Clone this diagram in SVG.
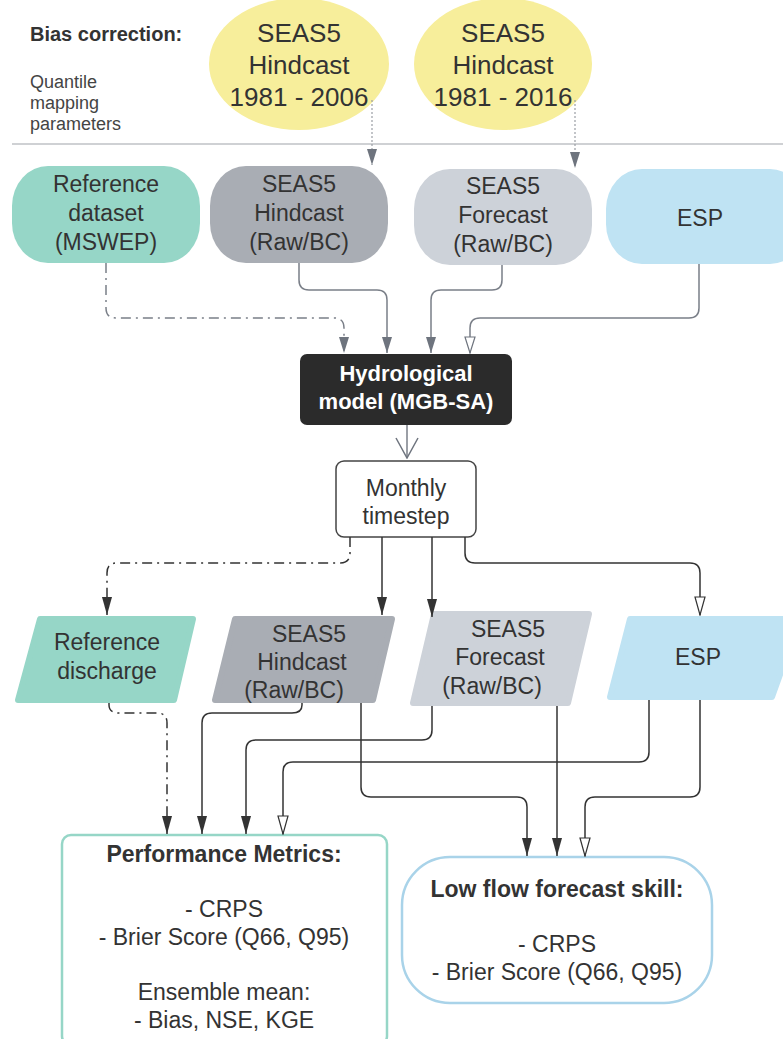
<svg xmlns="http://www.w3.org/2000/svg" width="783" height="1039" viewBox="0 0 783 1039">
<defs>
<style>
text{font-family:"Liberation Sans",Arial,sans-serif;fill:#333;text-anchor:middle}
.t{font-size:23px}
.y{font-size:26px}
.b{font-weight:bold}
.side{font-size:18px;text-anchor:start;fill:#444}
.cg{fill:none;stroke:#7a7f88;stroke-width:1.5}
.cd{fill:none;stroke:#333;stroke-width:1.5}
.dd{stroke-dasharray:10 5 2 5}
.dot{fill:none;stroke:#9a9ea5;stroke-width:1.2;stroke-dasharray:2 2}
</style>
<marker id="agf" viewBox="0 0 16 10" refX="16" refY="5" markerWidth="16" markerHeight="10" markerUnits="userSpaceOnUse" orient="auto"><path d="M0,0 L16,5 L0,10 z" fill="#6e747e"/></marker>
<marker id="agh" viewBox="-1 -1 18 12" refX="16" refY="5" markerWidth="18" markerHeight="12" markerUnits="userSpaceOnUse" orient="auto"><path d="M0,0 L16,5 L0,10 z" fill="#fff" stroke="#6e747e" stroke-width="1.2"/></marker>
<marker id="adf" viewBox="0 0 18 10" refX="18" refY="5" markerWidth="18" markerHeight="10" markerUnits="userSpaceOnUse" orient="auto"><path d="M0,0 L18,5 L0,10 z" fill="#333"/></marker>
<marker id="adh" viewBox="-1 -1 20 12" refX="18" refY="5" markerWidth="20" markerHeight="12" markerUnits="userSpaceOnUse" orient="auto"><path d="M0,0 L18,5 L0,10 z" fill="#fff" stroke="#333" stroke-width="1.2"/></marker>
<marker id="chev" viewBox="-1 -1 22 24" refX="20" refY="11" markerWidth="22" markerHeight="24" markerUnits="userSpaceOnUse" orient="auto"><path d="M0,0 L20,11 L0,22" fill="none" stroke="#6e747e" stroke-width="1.5"/></marker>
</defs>
<rect width="783" height="1039" fill="#fff"/>

<g id="bias-label">
<text x="30" y="41" class="b" style="font-size:20px;text-anchor:start">Bias correction:</text>
<text x="30" y="88" class="side">Quantile</text>
<text x="30" y="109" class="side">mapping</text>
<text x="30" y="130" class="side">parameters</text>
</g>
<line x1="12" y1="144" x2="783" y2="144" stroke="#cfd1d4" stroke-width="2"/>

<g id="yellow1">
<ellipse cx="299" cy="64" rx="90" ry="66" fill="#f7ee9b"/>
<text x="299" y="42" class="y">SEAS5</text>
<text x="299" y="74" class="y">Hindcast</text>
<text x="299" y="106" class="y">1981 - 2006</text>
</g>
<g id="yellow2">
<ellipse cx="503" cy="64" rx="89" ry="66" fill="#f7ee9b"/>
<text x="503" y="42" class="y">SEAS5</text>
<text x="503" y="74" class="y">Hindcast</text>
<text x="503" y="106" class="y">1981 - 2016</text>
</g>

<g id="ref-dataset">
<rect x="12" y="166" width="188" height="97" rx="36" ry="40" fill="#96d6c7"/>
<text x="106" y="192" class="t">Reference</text>
<text x="106" y="221" class="t">dataset</text>
<text x="106" y="250" class="t">(MSWEP)</text>
</g>
<g id="hind-in">
<rect x="210" y="166" width="178" height="97" rx="36" ry="40" fill="#a9adb4"/>
<text x="299" y="192" class="t">SEAS5</text>
<text x="299" y="221" class="t">Hindcast</text>
<text x="299" y="250" class="t">(Raw/BC)</text>
</g>
<g id="fore-in">
<rect x="414" y="169" width="178" height="96" rx="36" ry="40" fill="#cdd2d9"/>
<text x="503" y="194" class="t">SEAS5</text>
<text x="503" y="223" class="t">Forecast</text>
<text x="503" y="252" class="t">(Raw/BC)</text>
</g>
<g id="esp-in">
<rect x="606" y="169" width="200" height="95" rx="36" ry="40" fill="#bfe3f3"/>
<text x="700" y="226" class="t">ESP</text>
</g>

<g id="hydro">
<rect x="300" y="354" width="212" height="71" rx="7" fill="#2b2b2b"/>
<text x="406" y="381" class="b" style="font-size:22px;fill:#fff">Hydrological</text>
<text x="406" y="409" class="b" style="font-size:22px;fill:#fff">model (MGB-SA)</text>
</g>

<g id="monthly">
<rect x="336" y="461" width="140" height="76" rx="8" fill="#fff" stroke="#444" stroke-width="1.5"/>
<text x="406" y="496" class="t">Monthly</text>
<text x="406" y="524" class="t">timestep</text>
</g>

<g id="ref-discharge">
<polygon points="40,619 193,619 174,700 18,700" fill="#96d6c7" stroke="#96d6c7" stroke-width="6" stroke-linejoin="round"/>
<text x="107" y="650" class="t">Reference</text>
<text x="107" y="679" class="t">discharge</text>
</g>
<g id="hind-out">
<polygon points="235,619 392,619 373,700 215,700" fill="#a9adb4" stroke="#a9adb4" stroke-width="6" stroke-linejoin="round"/>
<text x="309" y="642" class="t">SEAS5</text>
<text x="302" y="670" class="t">Hindcast</text>
<text x="294" y="698" class="t">(Raw/BC)</text>
</g>
<g id="fore-out">
<polygon points="434,614 589,614 568,703 413,703" fill="#cdd2d9" stroke="#cdd2d9" stroke-width="6" stroke-linejoin="round"/>
<text x="508" y="637" class="t">SEAS5</text>
<text x="500" y="665" class="t">Forecast</text>
<text x="492" y="694" class="t">(Raw/BC)</text>
</g>
<g id="esp-out">
<polygon points="630,619 800,619 772,697 610,697" fill="#bfe3f3" stroke="#bfe3f3" stroke-width="6" stroke-linejoin="round"/>
<text x="698" y="665" class="t">ESP</text>
</g>

<g id="perf">
<rect x="62" y="835" width="325" height="210" rx="9" fill="#fff" stroke="#96d6c7" stroke-width="2.5"/>
<text x="224" y="862" class="b" style="font-size:23px">Performance Metrics:</text>
<text x="224" y="917" class="t">- CRPS</text>
<text x="224" y="945" class="t">- Brier Score (Q66, Q95)</text>
<text x="224" y="1000" class="t">Ensemble mean:</text>
<text x="224" y="1028" class="t">- Bias, NSE, KGE</text>
</g>
<g id="lowflow">
<rect x="402" y="857" width="310" height="146" rx="48" ry="48" fill="#fff" stroke="#a9d3e9" stroke-width="2.5"/>
<text x="557" y="897" class="b" style="font-size:23px">Low flow forecast skill:</text>
<text x="557" y="952" class="t">- CRPS</text>
<text x="557" y="980" class="t">- Brier Score (Q66, Q95)</text>
</g>

<g id="connectors">
<path class="dot" d="M372,100 V165" marker-end="url(#agf)"/>
<path class="dot" d="M575,100 V168" marker-end="url(#agf)"/>
<path class="cg dd" d="M106,263 V308 Q106,318 116,318 H334 Q344,318 344,328 V353" marker-end="url(#agf)"/>
<path class="cg" d="M299,263 V280 Q299,290 309,290 H377 Q387,290 387,300 V353" marker-end="url(#agf)"/>
<path class="cg" d="M502,265 V280 Q502,290 492,290 H441 Q431,290 431,300 V353" marker-end="url(#agf)"/>
<path class="cg" d="M699,264 V308 Q699,318 689,318 H480 Q470,318 470,328 V353" marker-end="url(#agh)"/>
<path class="cg" d="M407,425 V458" marker-end="url(#chev)"/>
<path class="cd dd" d="M350,537 V553 Q350,563 340,563 H117 Q107,563 107,573 V615" marker-end="url(#adf)"/>
<path class="cd" d="M382,537 V615" marker-end="url(#adf)"/>
<path class="cd" d="M432,537 V617" marker-end="url(#adf)"/>
<path class="cd" d="M465,537 V553 Q465,563 475,563 H690 Q700,563 700,573 V615" marker-end="url(#adh)"/>
<path class="cd dd" d="M109,703 V705 Q109,713 119,713 H157 Q167,713 167,723 V834" marker-end="url(#adf)"/>
<path class="cd" d="M302,703 V705 Q302,713 292,713 H212 Q202,713 202,723 V834" marker-end="url(#adf)"/>
<path class="cd" d="M432,706 V730 Q432,740 422,740 H256 Q246,740 246,750 V834" marker-end="url(#adf)"/>
<path class="cd" d="M649,700 V752 Q649,762 639,762 H293 Q283,762 283,772 V834" marker-end="url(#adh)"/>
<path class="cd" d="M361,703 V787 Q361,797 371,797 H517 Q527,797 527,807 V856" marker-end="url(#adf)"/>
<path class="cd" d="M557,706 V856" marker-end="url(#adf)"/>
<path class="cd" d="M700,700 V787 Q700,797 690,797 H595 Q585,797 585,807 V856" marker-end="url(#adh)"/>
</g>
</svg>
